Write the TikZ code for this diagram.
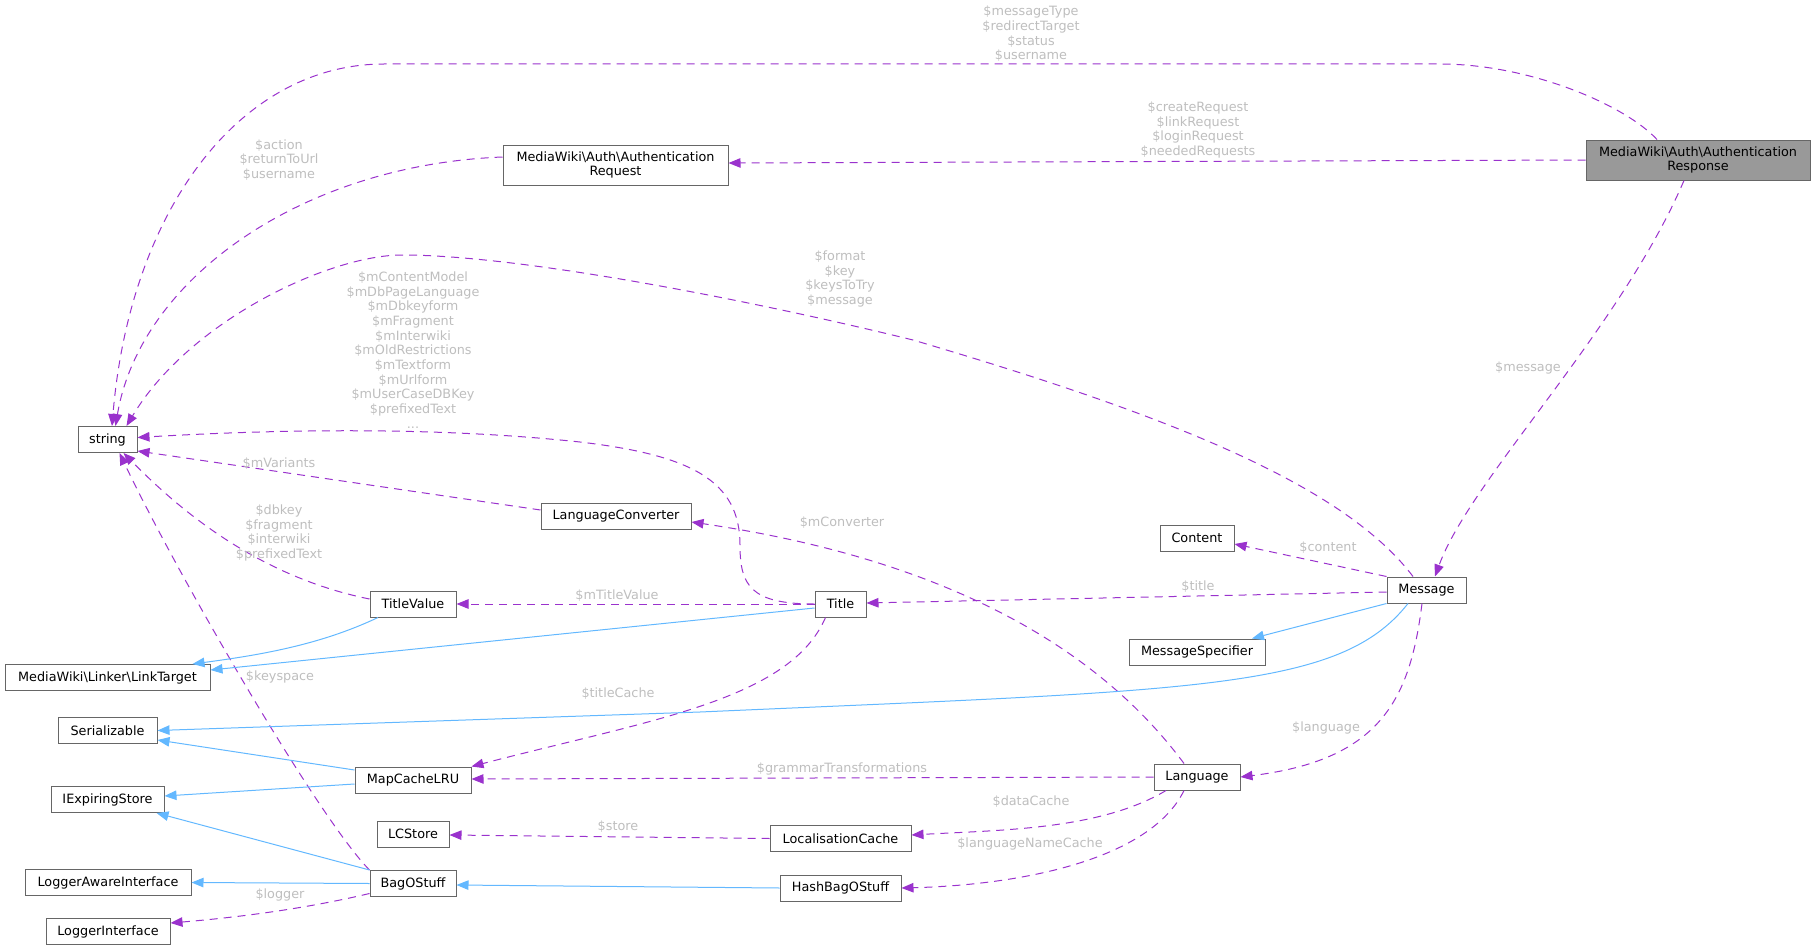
\documentclass[tikz,border=0pt]{standalone}
\usepackage{fontspec}
\setmainfont{DejaVu Sans}
\usetikzlibrary{arrows.meta}
\definecolor{depcol}{HTML}{9A32CD}
\definecolor{inhcol}{HTML}{63B8FF}
\definecolor{boxcol}{HTML}{666666}
\definecolor{lblcol}{HTML}{BEBEBE}

\begin{document}
\begin{tikzpicture}[x=1pt,y=-1pt,font=\fontsize{12.8}{14.7}\selectfont,
  cls/.style={draw=boxcol,line width=1pt,fill=white,minimum height=26pt,inner sep=0pt,align=center},
  dep/.style={depcol,line width=1pt,dash pattern=on 8pt off 6pt,-{Triangle[length=12pt,width=9.5pt]}},
  inh/.style={inhcol,line width=1pt,-{Triangle[length=12pt,width=9.5pt]}},
  lbl/.style={lblcol,align=center,inner sep=0pt}]
  \useasboundingbox (0,0) rectangle (1816,950);
  % classes
  \node[cls,fill=black!40,minimum width=224pt,minimum height=40pt] (resp) at (1698,160) {MediaWiki\textbackslash Auth\textbackslash Authentication\\Response};
  \node[cls,minimum width=225pt,minimum height=40pt] (req) at (615.5,165) {MediaWiki\textbackslash Auth\textbackslash Authentication\\Request};
  \node[cls,minimum width=59pt] (str) at (107.5,439.5) {string};
  \node[cls,minimum width=79pt] (msg) at (1426.5,590) {Message};
  \node[cls,minimum width=74pt] (content) at (1197,538) {Content};
  \node[cls,minimum width=136pt] (spec) at (1197,652) {MessageSpecifier};
  \node[cls,minimum width=51pt] (title) at (840.5,604) {Title};
  \node[cls,minimum width=86pt] (lang) at (1197,777) {Language};
  \node[cls,minimum width=141pt] (loccache) at (840.5,838.5) {LocalisationCache};
  \node[cls,minimum width=121pt] (hashbag) at (840.5,888) {HashBagOStuff};
  \node[cls,minimum width=150pt] (conv) at (616,516) {LanguageConverter};
  \node[cls,minimum width=86pt] (tval) at (413,604) {TitleValue};
  \node[cls,minimum width=205pt] (link) at (107.5,677.5) {MediaWiki\textbackslash Linker\textbackslash LinkTarget};
  \node[cls,minimum width=99pt] (ser) at (107.5,730.5) {Serializable};
  \node[cls,minimum width=113pt] (iexp) at (107.5,799.5) {IExpiringStore};
  \node[cls,minimum width=166pt] (lai) at (108,882.5) {LoggerAwareInterface};
  \node[cls,minimum width=124pt] (li) at (108,931.5) {LoggerInterface};
  \node[cls,minimum width=116pt] (mapc) at (413,780) {MapCacheLRU};
  \node[cls,minimum width=72pt] (lcs) at (413,834) {LCStore};
  \node[cls,minimum width=86pt] (bag) at (413,883.5) {BagOStuff};
  % members
  \draw[dep] ([shift={(-41,0)}]resp.north) .. controls (1625,105) and (1530,64) .. (1440,64) -- (384,64)
    .. controls (240,64) and (130,210) .. ([shift={(4.5,0)}]str.north);
  \node[lbl] (l1) at (1031,34) {\$messageType\\\$redirectTarget\\\$status\\\$username};
  \draw[dep] (resp.west) -- ([shift={(0,-2)}]req.east);
  \node[lbl] (l2) at (1198,130) {\$createRequest\\\$linkRequest\\\$loginRequest\\\$neededRequests};
  \draw[dep] ([shift={(-14,0)}]resp.south) .. controls (1620,330) and (1470,480) .. ([shift={(8.5,0)}]msg.north);
  \node[lbl] (l3) at (1528,368) {\$message};
  \draw[dep] ([shift={(0,-8)}]req.west) .. controls (300,165) and (140,280) .. ([shift={(8,0)}]str.north);
  \node[lbl] (l4) at (279,160) {\$action\\\$returnToUrl\\\$username};
  \draw[dep] ([shift={(-13.5,0)}]msg.north) .. controls (1340,480) and (1150,410) .. (913,340)
    .. controls (750,300) and (520,255) .. (402,255) .. controls (330,255) and (190,320) .. ([shift={(19,0)}]str.north);
  \node[lbl] (l5) at (840,279) {\$format\\\$key\\\$keysToTry\\\$message};
  \draw[dep] (title.west) .. controls (750,604) and (740,585) .. (740,545) .. controls (740,480) and (690,455) .. (580,442)
    .. controls (450,428) and (300,428) .. ([shift={(0,-2)}]str.east);
  \node[lbl] (l6) at (413,350) {\$mContentModel\\\$mDbPageLanguage\\\$mDbkeyform\\\$mFragment\\\$mInterwiki\\\$mOldRestrictions\\\$mTextform\\\$mUrlform\\\$mUserCaseDBKey\\\$prefixedText\\...};
  \draw[dep] ([shift={(0,-6)}]conv.west) -- ([shift={(0,-2)}]str.south east);
  \node[lbl] (l7) at (279,464) {\$mVariants};
  \draw[dep] ([shift={(0,-5)}]tval.west) .. controls (250,575) and (170,500) .. ([shift={(16,0)}]str.south);
  \node[lbl] (l8) at (279,533) {\$dbkey\\\$fragment\\\$interwiki\\\$prefixedText};
  \draw[dep] (bag.north west) .. controls (320,820) and (180,580) .. ([shift={(12,0)}]str.south);
  \node[lbl] (l9) at (280,677) {\$keyspace};
  \draw[dep] (title.west) -- (tval.east);
  \node[lbl] (l10) at (617,596) {\$mTitleValue};
  \draw[dep] ([shift={(0,2)}]msg.west) -- ([shift={(0,-1)}]title.east);
  \node[lbl] (l11) at (1198,587) {\$title};
  \draw[dep] (msg.north west) -- ([shift={(0,6)}]content.east);
  \node[lbl] (l12) at (1328,548) {\$content};
  \draw[dep] ([shift={(-13,0)}]lang.north) .. controls (1100,650) and (950,560) .. ([shift={(0,6)}]conv.east);
  \node[lbl] (l15) at (842,523) {\$mConverter};
  \draw[dep] ([shift={(-15,0)}]title.south) .. controls (790,700) and (650,720) .. (mapc.north east);
  \node[lbl] (l18) at (618,694) {\$titleCache};
  \draw[dep] (lang.west) -- ([shift={(0,-1)}]mapc.east);
  \node[lbl] (l19) at (842,769) {\$grammarTransformations};
  \draw[dep] ([shift={(0,10)}]bag.west) .. controls (300,910) and (230,918) .. ([shift={(0,-8.5)}]li.east);
  \node[lbl] (l24) at (280,895) {\$logger};
  \draw[dep] (loccache.west) -- ([shift={(0,1)}]lcs.east);
  \node[lbl] (l26) at (618,827) {\$store};
  \draw[dep] ([shift={(-31,0)}]lang.south) .. controls (1100,830) and (1000,830) .. ([shift={(0,-3.5)}]loccache.east);
  \node[lbl] (l27) at (1031,802) {\$dataCache};
  \draw[dep] ([shift={(-13,0)}]lang.south) .. controls (1150,860) and (1020,885) .. (hashbag.east);
  \node[lbl] (l28) at (1030,844) {\$languageNameCache};
  \draw[dep] ([shift={(-4.5,0)}]msg.south) .. controls (1410,700) and (1380,760) .. (lang.east);
  \node[lbl] (l29) at (1326,728) {\$language};
  % inheritance
  \draw[inh] (msg.south west) -- ([shift={(55,0)}]spec.north);
  \draw[inh] ([shift={(-18.5,0)}]msg.south) .. controls (1340,690) and (1200,690) .. (700,712) -- (ser.east);
  \draw[inh] ([shift={(0,4)}]title.west) -- ([shift={(0,-7.5)}]link.east);
  \draw[inh] ([shift={(-35,0)}]tval.south) .. controls (320,645) and (260,655) .. ([shift={(85,0)}]link.north);
  \draw[inh] ([shift={(0,-10)}]mapc.west) -- ([shift={(0,-4)}]ser.south east);
  \draw[inh] ([shift={(0,4)}]mapc.west) -- ([shift={(0,-3.5)}]iexp.east);
  \draw[inh] (bag.north west) -- ([shift={(49,0)}]iexp.south);
  \draw[inh] (bag.west) -- (lai.east);
  \draw[inh] (hashbag.west) -- ([shift={(0,1.5)}]bag.east);
\end{tikzpicture}
\end{document}
